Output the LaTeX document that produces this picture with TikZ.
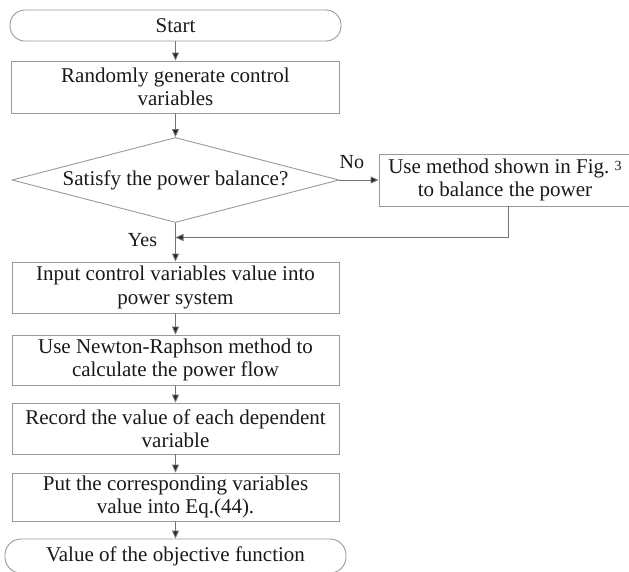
\documentclass[tikz,border=0pt]{standalone}
\usepackage{fontspec}
\setmainfont{Liberation Serif}
\usetikzlibrary{arrows.meta, shapes.geometric}

\begin{document}
\begin{tikzpicture}[>={Triangle[length=8pt, width=7pt, fill=black!85]}, x=1pt, y=-1pt,
    box/.style={draw=black!40, line width=0.9pt, text=black!90, align=center, inner sep=0pt,
      font=\fontsize{21}{23.5}\selectfont},
    term/.style={box, rounded corners=15pt},
    proc/.style={box},
    decide/.style={box, diamond, aspect=3.85},
    flow/.style={->, draw=black!55, line width=0.9pt},
    tag/.style={inner sep=0pt, text=black!90, font=\fontsize{20}{22}\selectfont}]

    \path[use as bounding box, clip] (0,0) rectangle (629,571);

    % Main column
    \node[term, minimum width=331, minimum height=31] (start) at (175.5,25.5) {Start};
    \node[proc, minimum width=328, minimum height=52] (gen) at (175.5,87) {Randomly generate control\\variables};
    \node[decide, minimum width=327, minimum height=85] (check) at (175.5,180) {Satisfy the power balance?};
    \node[proc, minimum width=327, minimum height=51] (input) at (175.5,287.5) {Input control variables value into\\power system};
    \node[proc, minimum width=327, minimum height=50] (newton) at (175.5,360) {Use Newton-Raphson method to\\calculate the power flow};
    \node[proc, minimum width=327, minimum height=51] (record) at (175.5,428.5) {Record the value of each dependent\\variable};
    \node[proc, minimum width=327, minimum height=48] (put) at (175.5,497) {Put the corresponding variables\\value into Eq.(44).};
    \node[term, minimum width=341, minimum height=34, rounded corners=16pt] (finish) at (175.5,556) {Value of the objective function};

    % Side branch
    \node[proc, minimum width=252, minimum height=52] (method) at (505,180) {Use method shown in Fig.\ \raisebox{3pt}{\fontsize{14}{14}\selectfont 3}\\to balance the power};
    \coordinate (merge) at (175.5,237.5);

    % Arrows
    \draw[flow] (start) -- (gen);
    \draw[flow] (gen) -- (check);
    \draw[flow] (check.east) -- node[tag, above=11pt, pos=0.32] (no) {No} (method.west);
    \draw[flow] (check.south) -- node[tag, left=18pt, pos=0.45] (yes) {Yes} (input.north);
    \draw[flow] ([xshift=3pt]method.south) |- (merge);
    \draw[flow] (input) -- (newton);
    \draw[flow] (newton) -- (record);
    \draw[flow] (record) -- (put);
    \draw[flow] (put) -- (finish);
\end{tikzpicture}
\end{document}
